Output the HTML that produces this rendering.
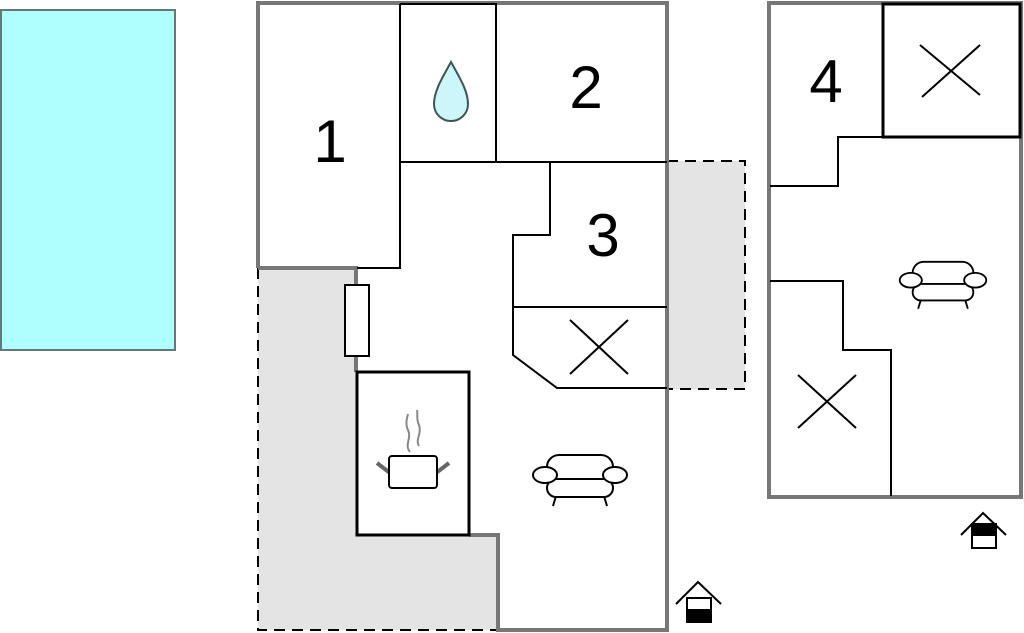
<!DOCTYPE html>
<html><head><meta charset="utf-8"><style>html,body{margin:0;padding:0;background:#fff}svg{display:block}</style></head>
<body>
<svg width="1024" height="633" viewBox="0 0 1024 633" xmlns="http://www.w3.org/2000/svg">
<defs>
<g id="sofa" fill="#fff" stroke="#000" stroke-width="2">
  <line x1="-24" y1="18" x2="-27" y2="28"/><line x1="24" y1="18" x2="27" y2="28"/>
  <rect x="-33" y="-23" width="66" height="26" rx="12"/>
  <rect x="-33" y="1" width="66" height="18" rx="9"/>
  <ellipse cx="-35" cy="-3" rx="12" ry="8"/>
  <ellipse cx="35" cy="-3" rx="12" ry="8"/>
</g>
</defs>
<!-- pool -->
<rect x="1" y="10" width="174" height="340" fill="#b0ffff" stroke="#667777" stroke-width="2"/>
<!-- shaded terraces -->
<path d="M258 268 H356 V535 H498 V630 H258 Z" fill="#e4e4e4"/>
<path d="M258 268 V630 H498" fill="none" stroke="#000" stroke-width="2" stroke-dasharray="11,7"/>
<rect x="667" y="161" width="78" height="228" fill="#e4e4e4"/>
<path d="M667 161 H745 V389 H667" fill="none" stroke="#000" stroke-width="2" stroke-dasharray="11,7"/>
<!-- main building grey walls -->
<path d="M258 268 V3 H667 V630 H498 V535 H469 M356 372 V268 H258" fill="none" stroke="#777" stroke-width="4"/>
<!-- interior black -->
<g fill="none" stroke="#000" stroke-width="2">
  <path d="M400 4 V268 H357"/>
  <path d="M400 4 H496 V162"/>
  <path d="M400 162 H667"/>
  <path d="M550 162 V235 H513 V355 L557 388 H667"/>
  <path d="M513 307 H667"/>
  <path d="M570 320 L628 374 M628 320 L570 374"/>
</g>
<rect x="357" y="372" width="112" height="163" fill="#fff" stroke="#000" stroke-width="3"/>
<rect x="345" y="285" width="24" height="71" fill="#fff" stroke="#000" stroke-width="2"/>
<!-- drop -->
<path d="M451 62 C444 75 434 90 434 104 C434 114 442 121 451 121 C460 121 468 114 468 104 C468 90 458 75 451 62 Z" fill="#cdf6fb" stroke="#3d5555" stroke-width="2"/>
<!-- pot -->
<g>
  <path d="M377 463 L390 473 M449 463 L436 473" stroke="#666" stroke-width="4"/>
  <rect x="389" y="456" width="48" height="32" rx="3" fill="#fff" stroke="#000" stroke-width="2"/>
  <path d="M410 452 C404 445 412 438 408 430 C405 424 407 418 408 414" fill="none" stroke="#888" stroke-width="2"/>
  <path d="M419 446 C415 440 422 433 419 425 C416 419 418 414 417 410" fill="none" stroke="#888" stroke-width="2"/>
</g>
<use href="#sofa" x="580" y="478"/>
<!-- labels -->
<g font-family="Liberation Sans, sans-serif" font-size="60" fill="#000" text-anchor="middle">
  <text x="330" y="162">1</text>
  <text x="586" y="108">2</text>
  <text x="603" y="256">3</text>
  <text x="826" y="102">4</text>
</g>
<!-- house icons -->
<g stroke="#000" stroke-width="2" fill="none">
  <path d="M676 604 L698 582 L721 604"/>
  <rect x="687" y="598" width="24" height="24" fill="#fff"/>
  <rect x="687" y="610" width="24" height="12" fill="#000"/>
  <path d="M961 535 L983 513 L1006 535"/>
  <rect x="972" y="524" width="24" height="24" fill="#fff"/>
  <rect x="972" y="524" width="24" height="11" fill="#000"/>
</g>
<!-- right building -->
<rect x="769" y="3" width="252" height="494" fill="none" stroke="#777" stroke-width="4"/>
<g fill="none" stroke="#000" stroke-width="2">
  <rect x="883" y="4" width="137" height="133" stroke-width="3"/>
  <path d="M920 45 L980 95 M980 45 L922 97"/>
  <path d="M883 137 H838 V186 H770"/>
  <path d="M770 281 H843 V350 H891 V496"/>
  <path d="M798 375 L856 428 M856 375 L798 428"/>
</g>
<use href="#sofa" transform="translate(943 283) scale(0.92)"/>
</svg>
</body></html>
